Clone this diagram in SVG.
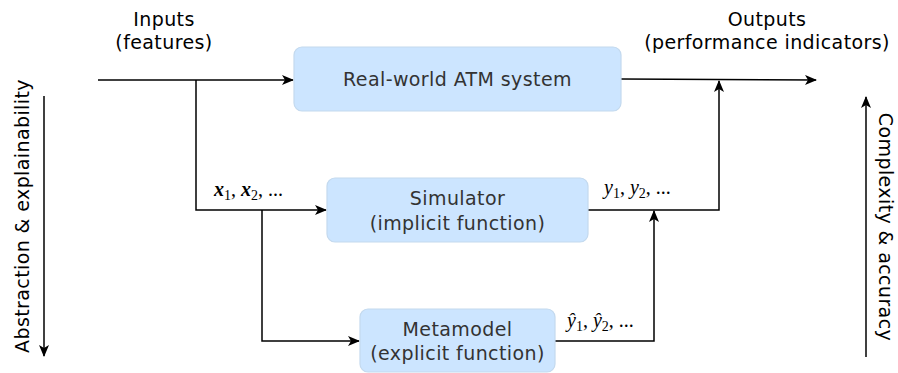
<svg xmlns="http://www.w3.org/2000/svg" width="898" height="373" viewBox="0 0 898 373">
<defs>
<marker id="ah" markerWidth="12" markerHeight="10" refX="11" refY="5" orient="auto" markerUnits="userSpaceOnUse">
<path d="M0,0 L12,5 L0,10 L3,5 Z" fill="#000"/>
</marker>
</defs>
<style>
.box{fill:#cce5ff;stroke:#c3d9ee;stroke-width:1.2}
.t{font-family:"DejaVu Sans",Verdana,sans-serif;font-size:19px;letter-spacing:0.4px;fill:#333;text-anchor:middle}
.o{font-family:"DejaVu Sans",Verdana,sans-serif;font-size:19px;letter-spacing:0.4px;fill:#000;text-anchor:middle}
.m{font-family:"Liberation Serif","Times New Roman",serif;font-size:20px;fill:#000}
.c{fill:none;stroke:#000;stroke-width:1.5}
</style>
<rect width="898" height="373" fill="#fff"/>
<g id="labels">
<text class="o" x="164" y="26">Inputs</text>
<text class="o" x="164" y="49">(features)</text>
<text class="o" x="767" y="26">Outputs</text>
<text class="o" x="767" y="49">(performance indicators)</text>
<text class="o" transform="translate(29,216) rotate(-90)">Abstraction &amp; explainability</text>
<text class="o" transform="translate(879,227) rotate(90)">Complexity &amp; accuracy</text>
</g>
<g id="connectors">
<path class="c" d="M98,80 H293" marker-end="url(#ah)"/>
<path class="c" d="M196,80 V210 H326" marker-end="url(#ah)"/>
<path class="c" d="M262,210 V341 H359" marker-end="url(#ah)"/>
<path class="c" d="M621,79 L816,80" marker-end="url(#ah)"/>
<path class="c" d="M588,210 H719 V81" marker-end="url(#ah)"/>
<path class="c" d="M555,341 H654 V211" marker-end="url(#ah)"/>
<path class="c" d="M44,96 V356" marker-end="url(#ah)"/>
<path class="c" d="M866,357 V97" marker-end="url(#ah)"/>
<text class="m" x="214" y="196"><tspan font-weight="bold" font-style="italic">x</tspan><tspan font-size="14" dy="4">1</tspan><tspan dy="-4">, </tspan><tspan font-weight="bold" font-style="italic">x</tspan><tspan font-size="14" dy="4">2</tspan><tspan dy="-4">, ...</tspan></text>
<text class="m" x="604" y="194"><tspan font-style="italic">y</tspan><tspan font-size="14" dy="4">1</tspan><tspan dy="-4">, </tspan><tspan font-style="italic">y</tspan><tspan font-size="14" dy="4">2</tspan><tspan dy="-4">, ...</tspan></text>
<text class="m" x="567" y="327"><tspan font-style="italic">ŷ</tspan><tspan font-size="14" dy="4">1</tspan><tspan dy="-4">, </tspan><tspan font-style="italic">ŷ</tspan><tspan font-size="14" dy="4">2</tspan><tspan dy="-4">, ...</tspan></text>
</g>
<g id="real">
<rect class="box" x="294" y="47" width="327" height="64" rx="8"/>
<text class="t" x="457.5" y="86">Real-world ATM system</text>
</g>
<g id="simulator">
<rect class="box" x="327" y="178" width="261" height="64" rx="8"/>
<text class="t" x="457.5" y="205">Simulator</text>
<text class="t" x="457.5" y="230">(implicit function)</text>
</g>
<g id="metamodel">
<rect class="box" x="360" y="309" width="195" height="63" rx="8"/>
<text class="t" x="457.5" y="336">Metamodel</text>
<text class="t" x="457.5" y="360">(explicit function)</text>
</g>
</svg>
